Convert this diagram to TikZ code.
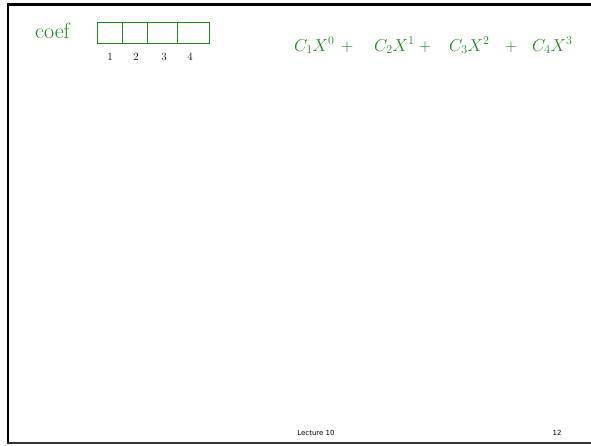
\documentclass[tikz,border=0pt]{standalone}
\usepackage{fontspec}
\newfontfamily\footfont{DejaVu Sans}
\usetikzlibrary{positioning}
\definecolor{ink}{RGB}{30,135,30}

\begin{document}
\begin{tikzpicture}[
  x=1pt, y=-1pt,
  node distance=5pt and 8pt,
  hand/.style={text=ink, inner sep=0pt, font=\fontsize{18}{20}\selectfont},
  cell/.style={draw=ink, color=ink, line width=1pt, minimum height=21pt, inner sep=0pt, anchor=west},
  idx/.style={text=black, inner sep=0pt, font=\fontsize{11}{12}\selectfont},
  foot/.style={text=black, inner sep=0pt, font=\footfont\fontsize{7}{8}\selectfont},
]
\useasboundingbox (0,0) rectangle (591,445);
% slide frame
\draw[line width=2.2pt] (591,4.5) -- (8,4.5) -- (8,443);
\draw[line width=1.2pt, black!80] (7,443) -- (591,443);

% coefficient array
\node[hand, anchor=base west, font=\fontsize{22}{24}\selectfont] (coef) at (35,38) {coef};
\foreach \a/\w/\k in {97/25/1, 122/25/2, 147/30/3, 177/32/4}{
  \node[cell, minimum width=\w pt] (c\k) at (\a,32.5) {};
}
\foreach \x/\k in {110/1, 136/2, 164/3, 190/4}{
  \node[idx] (i\k) at (\x,57) {\k};
}

% polynomial
\foreach \x/\t/\k in {294/{C_1X^0}/1, 374/{C_2X^1}/2, 449/{C_3X^2}/3, 532/{C_4X^3}/4}{
  \node[hand, anchor=base west] (t\k) at (\x,51) {$\t$};
}
\foreach \x/\k in {347/1, 425/2, 511/3}{
  \node[hand, anchor=base] (p\k) at (\x,51) {$+$};
}

% footer
\node[foot] (lect) at (316,433) {Lecture 10};
\node[foot] (num) at (557,433) {12};
\end{tikzpicture}
\end{document}
